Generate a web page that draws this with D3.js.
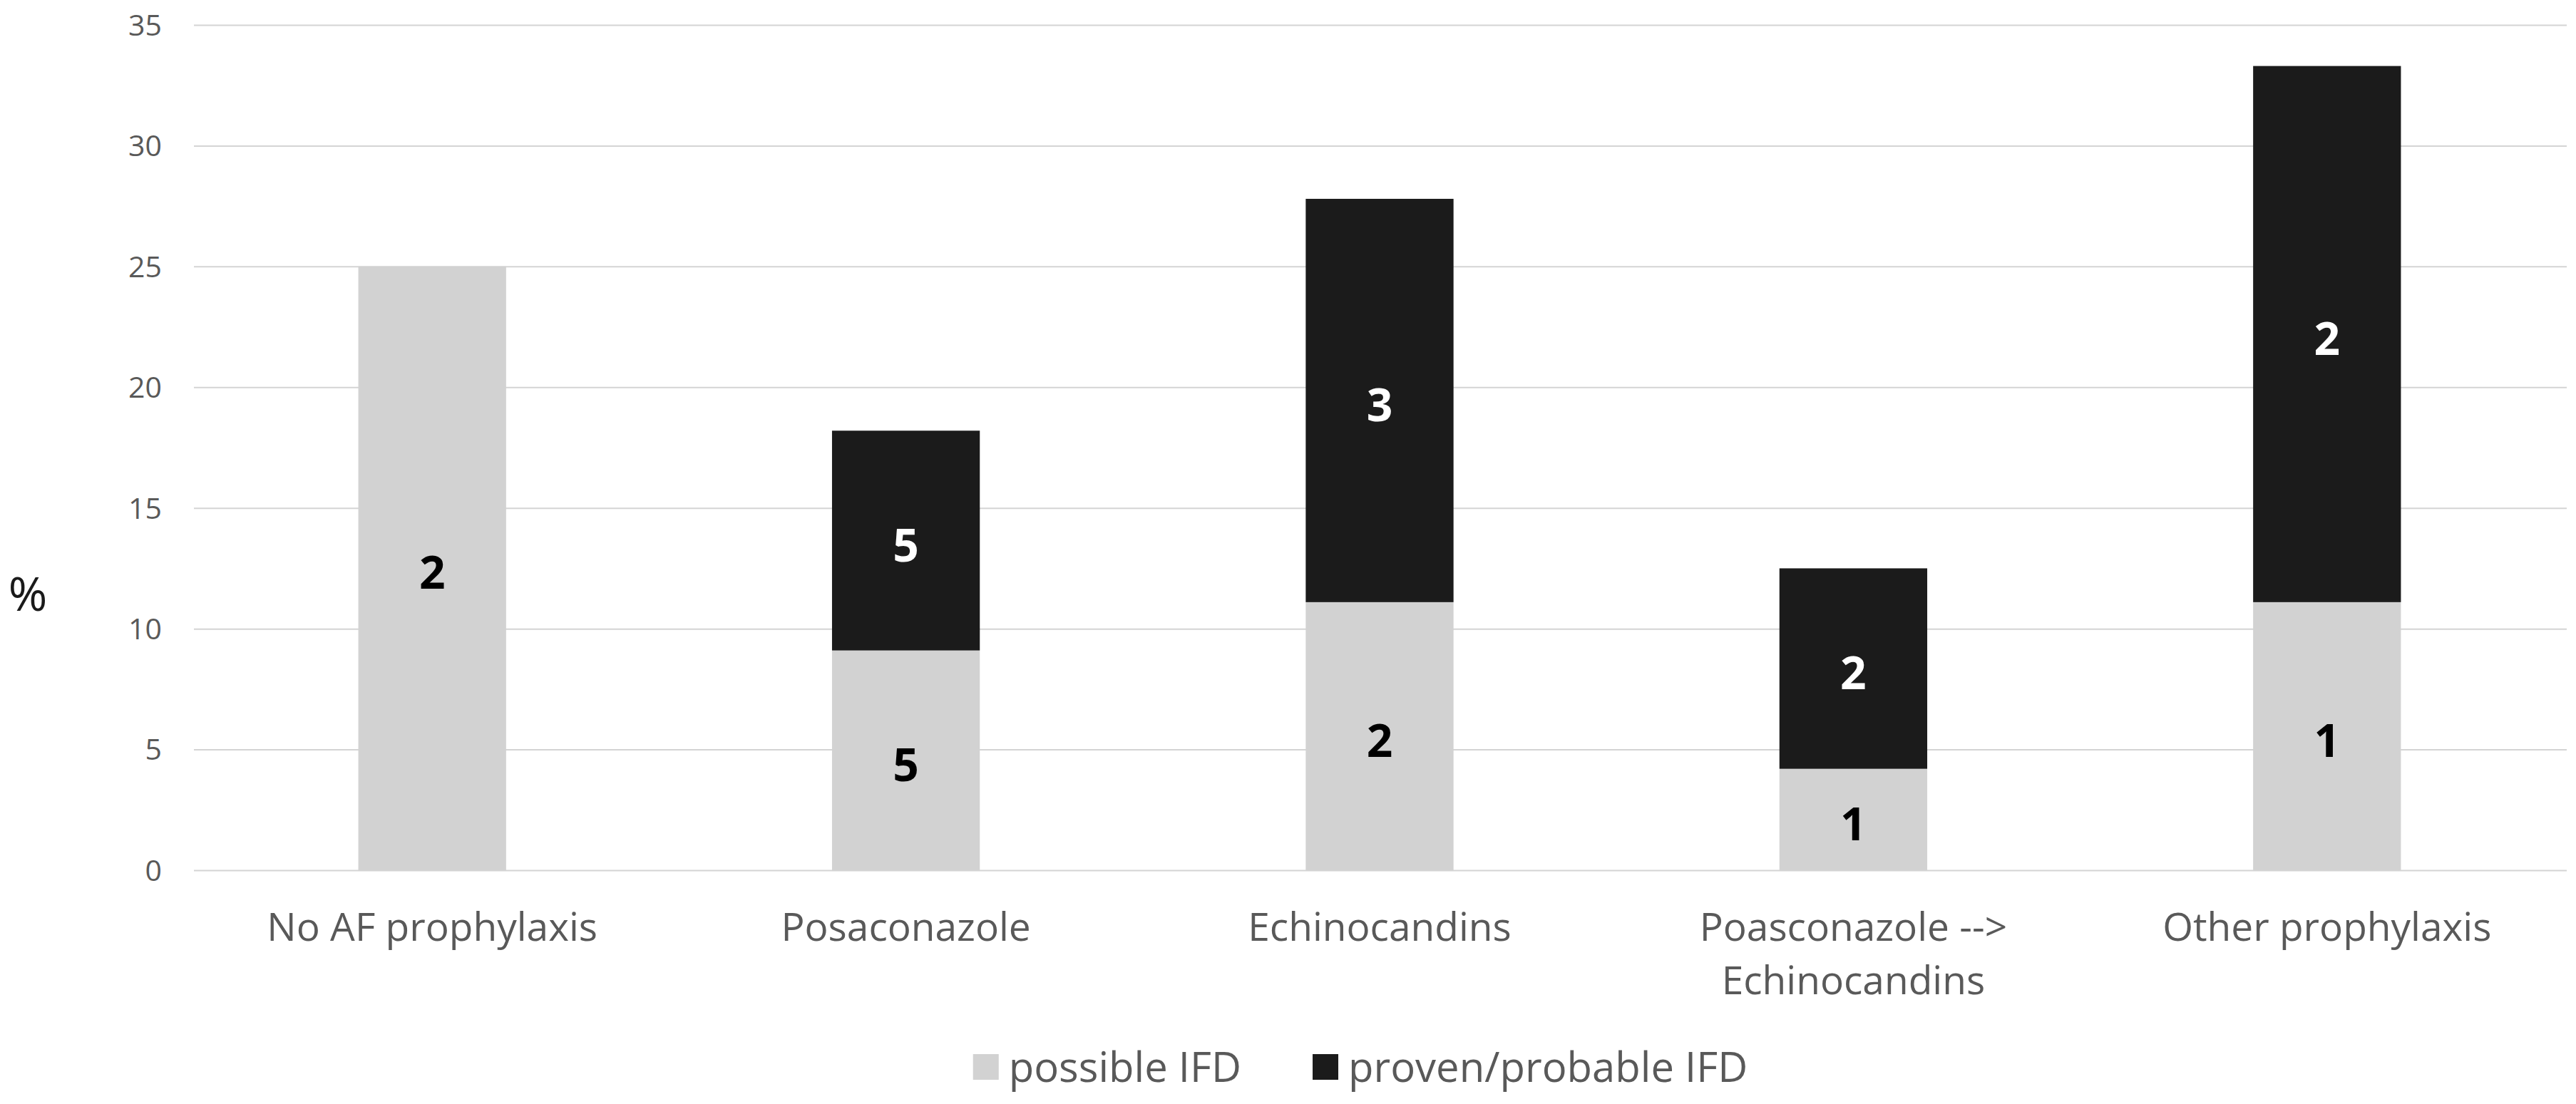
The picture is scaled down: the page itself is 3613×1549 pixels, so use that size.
<!DOCTYPE html>
<html lang="en">
<head>
<meta charset="UTF-8">
<title>IFD by prophylaxis</title>
<script src="https://d3js.org/d3.v7.min.js"></script>
<style>
  body { margin: 0; background: #fff; }
  text { font-family: "Open Sans", sans-serif; }
</style>
</head>
<body>
<svg id="chart" width="3613" height="1549"></svg>
<script>
// data
const categories = ["No AF prophylaxis", "Posaconazole", "Echinocandins", "Poasconazole -->\nEchinocandins", "Other prophylaxis"];
const possiblePct = [25, 9.1, 11.1, 4.2, 11.1];
const provenPct = [0, 9.1, 16.7, 8.3, 22.2];
const possibleN = [2, 5, 2, 1, 1];
const provenN = [null, 5, 3, 2, 2];
const yTicks = [0, 5, 10, 15, 20, 25, 30, 35];
const seriesNames = ["possible IFD", "proven/probable IFD"];

const plotLeft = 274, plotRight = 3596, plotTop = 35, plotBottom = 1221;
const colLight = "#d2d2d2", colDark = "#1b1b1b";

const svg = d3.select("#chart");

const x = d3.scaleBand()
    .domain(categories)
    .range([plotLeft, plotRight])
    .paddingInner(0.688)
    .paddingOuter(0.344);

const y = d3.scaleLinear().domain([0, 35]).range([plotBottom, plotTop]);

// gridlines + tick labels
const yAxis = d3.axisLeft(y).tickValues(yTicks).tickSize(-(3600 - 272)).tickPadding(0);
const gy = svg.append("g").attr("transform", "translate(272,0)").call(yAxis);
gy.select(".domain").remove();
gy.selectAll(".tick line").attr("stroke", "#d4d4d4").attr("stroke-width", 2);
gy.selectAll(".tick text")
    .attr("x", -45)
    .attr("dy", "0.35em")
    .attr("fill", "#595959")
    .style("font-size", "41px");

svg.append("text")
    .attr("x", 39).attr("y", 833).attr("dy", "0.36em")
    .attr("text-anchor", "middle")
    .attr("fill", "#1a1a1a")
    .style("font-size", "66px")
    .text("%");

// stacked bars
const rows = categories.map((c, i) => ({
    cat: c,
    segs: [
        { y0: 0, y1: possiblePct[i], n: possibleN[i], fill: colLight, txt: "#000" },
        { y0: possiblePct[i], y1: possiblePct[i] + provenPct[i], n: provenN[i], fill: colDark, txt: "#fff" }
    ]
}));

const bars = svg.append("g").selectAll("g").data(rows).join("g");

bars.selectAll("rect")
    .data(d => d.segs.filter(s => s.y1 > s.y0).map(s => ({ ...s, cat: d.cat })))
    .join("rect")
    .attr("x", d => x(d.cat))
    .attr("width", x.bandwidth())
    .attr("y", d => y(d.y1))
    .attr("height", d => y(d.y0) - y(d.y1))
    .attr("fill", d => d.fill);

bars.selectAll("text")
    .data(d => d.segs.filter(s => s.n != null).map(s => ({ ...s, cat: d.cat })))
    .join("text")
    .attr("x", d => x(d.cat) + x.bandwidth() / 2)
    .attr("y", d => (y(d.y0) + y(d.y1)) / 2 + 6)
    .attr("dy", "0.36em")
    .attr("text-anchor", "middle")
    .attr("fill", d => d.txt)
    .style("font-size", "64px")
    .style("font-weight", "bold")
    .text(d => d.n);

// category labels
const catLabels = svg.append("g").selectAll("text").data(categories).join("text")
    .attr("x", d => x(d) + x.bandwidth() / 2)
    .attr("y", 1300)
    .attr("text-anchor", "middle")
    .attr("fill", "#595959")
    .style("font-size", "55px");
catLabels.each(function(d) {
    const lines = d.split("\n");
    d3.select(this).selectAll("tspan").data(lines).join("tspan")
        .attr("x", x(d) + x.bandwidth() / 2)
        .attr("dy", (l, i) => i === 0 ? "0.36em" : "75px")
        .text(l => l);
});

// legend
const lg = svg.append("g");
const legendY = 1497, box = 36, gapBox = 14, gapItem = 100;
let cx = 0;
seriesNames.forEach((name, i) => {
    const g = lg.append("g");
    g.append("rect").attr("x", 0).attr("y", legendY - box / 2)
        .attr("width", box).attr("height", box)
        .attr("fill", i === 0 ? colLight : colDark);
    const t = g.append("text").attr("x", box + gapBox).attr("y", legendY).attr("dy", "0.36em")
        .attr("fill", "#595959").style("font-size", "58px").text(name);
    const w = box + gapBox + t.node().getComputedTextLength();
    g.attr("transform", `translate(${cx},0)`);
    cx += w + gapItem;
});
const legendW = cx - gapItem;
lg.attr("transform", `translate(${1908 - legendW / 2},0)`);
</script>
</body>
</html>
